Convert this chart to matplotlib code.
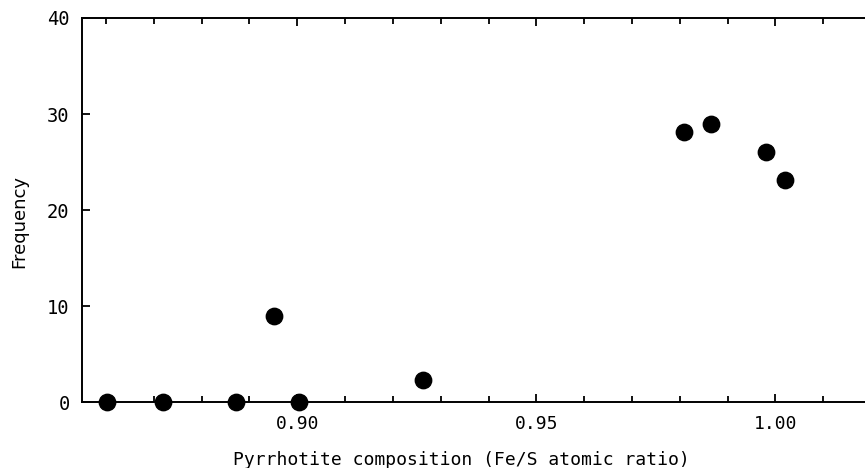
import numpy as np
import matplotlib.pyplot as plt
from matplotlib.ticker import MultipleLocator

# Pyrrhotite composition vs frequency
fes_ratio = [0.8602, 0.8719, 0.8872, 0.8952, 0.9004, 0.9263, 0.9809, 0.9866, 0.9981, 1.0019]
frequency = [0, 0, 0, 9.0, 0, 2.3, 28.1, 29.0, 26.1, 23.1]

mono = 'DejaVu Sans Mono'

fig = plt.figure(figsize=(8.65, 4.68), dpi=100)
# right spine sits just past the image edge, as in the scan
ax = fig.add_axes([0.0948, 0.140, 0.9145, 0.8216])

ax.plot(fes_ratio, frequency, 'o', color='k', markersize=11.8, linestyle='none', clip_on=False, zorder=3)

ax.set_xlim(0.855, 1.0204)
ax.set_ylim(0, 40)

ax.xaxis.set_minor_locator(MultipleLocator(0.01))
ax.set_xticks([0.90, 0.95, 1.00])
ax.set_xticklabels(['0.90', '0.95', '1.00'], fontfamily=mono, fontsize=13)
ax.set_yticks([0, 10, 20, 30, 40])
ax.set_yticklabels(['0', '10', '20', '30', '40'], fontfamily=mono, fontsize=13.5)

ax.tick_params(axis='both', which='major', direction='in', top=True, right=True, length=6, width=1.3)
ax.tick_params(axis='x', which='minor', direction='in', top=True, length=4, width=1.3)
ax.tick_params(axis='x', which='major', pad=9)
ax.tick_params(axis='y', which='major', pad=9)

for sp in ax.spines.values():
    sp.set_linewidth(1.4)

ax.set_xlabel('Pyrrhotite composition (Fe/S atomic ratio)', fontfamily=mono, fontsize=13)
ax.xaxis.set_label_coords(0.48, -0.125)
ax.set_ylabel('Frequency', fontsize=13)
ax.yaxis.set_label_coords(-0.068, 0.47)

fig.savefig('out.png', dpi=100)
